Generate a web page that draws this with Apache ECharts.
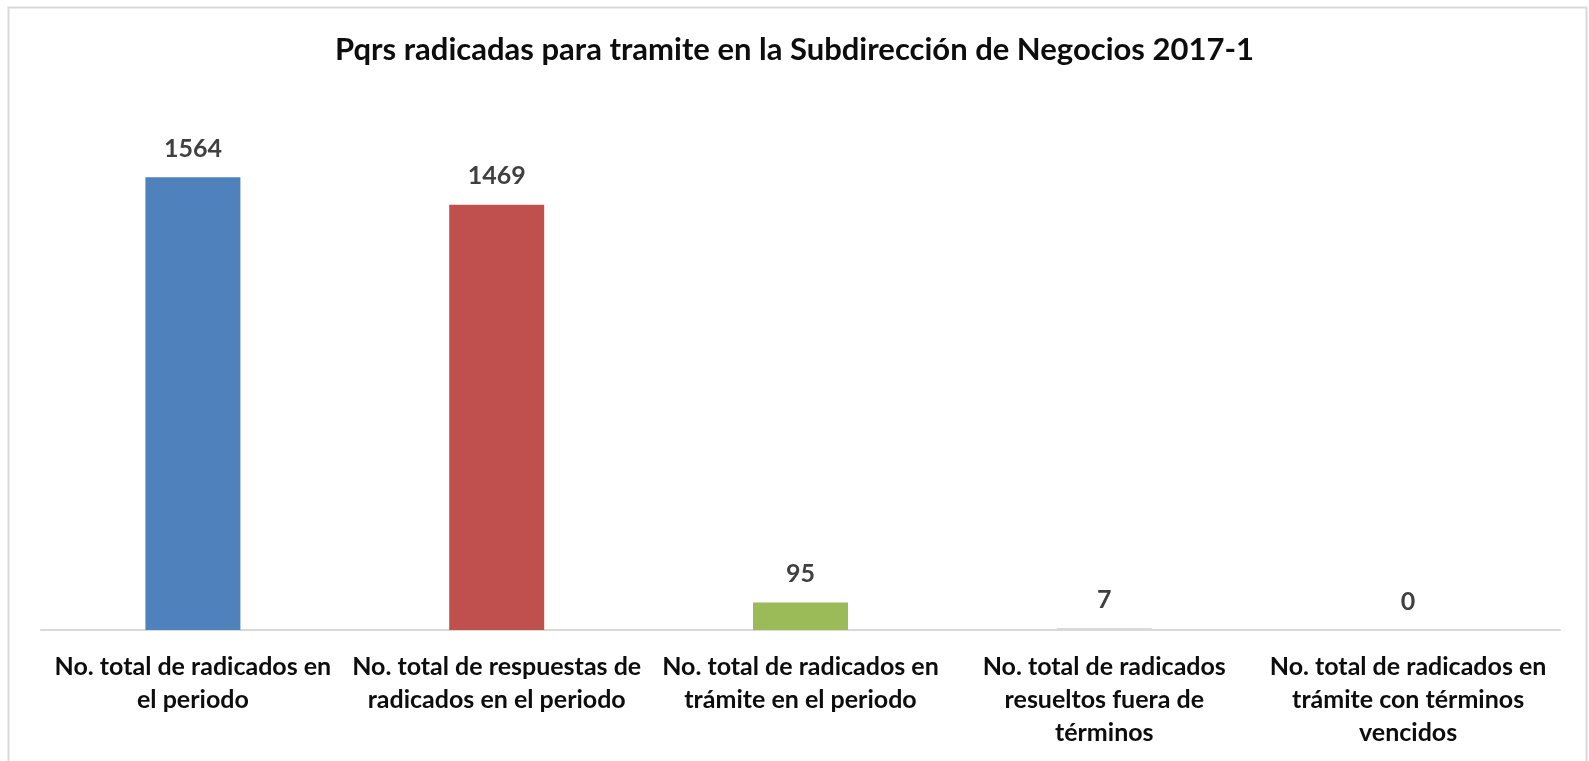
<!DOCTYPE html>
<html>
<head>
<meta charset="utf-8">
<script src="https://cdn.jsdelivr.net/npm/echarts@6/dist/echarts.min.js"></script>
<style>
	html, body { margin: 0; padding: 0; background: #fff; }
	#chart { width: 1589px; height: 761px; }
</style>
</head>
<body>
<div id="chart"></div>
<script>
// datos
var categorias = [
	'No. total de radicados en\nel periodo',
	'No. total de respuestas de\nradicados en el periodo',
	'No. total de radicados en\ntrámite en el periodo',
	'No. total de radicados\nresueltos fuera de\ntérminos',
	'No. total de radicados en\ntrámite con términos\nvencidos'
];
var valores = [1564, 1469, 95, 7, 0];
var colores = ['#4f81bd', '#c0504d', '#9bbb59', '#d9d9d9', '#4bacc6'];

var myChart = echarts.init(document.getElementById('chart'));

var datos = [];
valores.forEach(function(v, i) {
	datos.push({ value: v, itemStyle: { color: colores[i] } });
});

var option = {
	animation: false,
	backgroundColor: '#fff',
	title: {
		text: 'Pqrs radicadas para tramite en la Subdirección de Negocios 2017-1',
		left: 'center',
		top: 29,
		textStyle: {
			fontFamily: 'Lato',
			fontWeight: 'bold',
			fontSize: 31,
			color: '#0d0d0d'
		}
	},
	graphic: [{
		type: 'rect',
		silent: true,
		shape: { x: 8.5, y: 7.5, width: 1578, height: 800 },
		style: { fill: 'none', stroke: '#d9d9d9', lineWidth: 2 }
	}],
	grid: {
		left: 41,
		right: 29,
		top: 109,
		bottom: 131
	},
	xAxis: {
		type: 'category',
		data: categorias,
		axisLine: { lineStyle: { color: '#d9d9d9', width: 2 } },
		axisTick: { show: false },
		axisLabel: {
			interval: 0,
			margin: 20,
			fontFamily: 'Lato',
			fontWeight: 'bold',
			fontSize: 25,
			lineHeight: 33,
			color: '#0d0d0d'
		}
	},
	yAxis: {
		type: 'value',
		min: 0,
		max: 1800,
		show: false,
		splitLine: { show: false }
	},
	series: [{
		type: 'bar',
		barWidth: 95,
		data: datos,
		label: {
			show: true,
			position: 'top',
			distance: 16,
			fontFamily: 'Lato',
			fontWeight: 'bold',
			fontSize: 25,
			color: '#404040'
		}
	}]
};

myChart.setOption(option);
</script>
</body>
</html>
